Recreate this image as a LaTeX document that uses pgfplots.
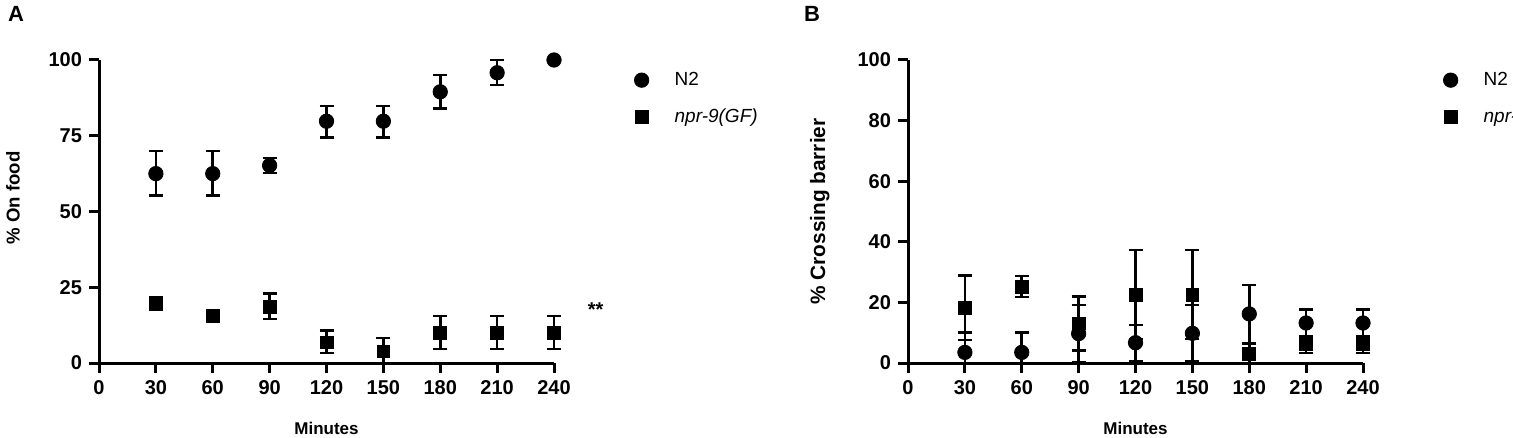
\documentclass[border=0pt]{standalone}
\usepackage{pgfplots}
\pgfplotsset{compat=1.18}
\usepackage{fontspec}
\setmainfont{Liberation Sans}

\pgfplotstableread{
x y ep em
30 62.5 7.5 7.3
60 62.5 7.5 7.3
90 65.2 2.5 2.5
120 79.8 5.0 5.3
150 79.8 5.0 5.3
180 89.5 5.6 5.5
210 95.8 4.2 4.1
240 100 0 0
}\AnTwo
\pgfplotstableread{
x y ep em
30 19.8 2.0 2.3
60 15.6 0 0
90 18.6 4.4 4.1
120 6.8 4.0 3.5
150 3.8 4.4 3.8
180 10.0 5.5 5.4
210 10.0 5.5 5.4
240 10.0 5.5 5.4
}\Anpr
\pgfplotstableread{
x y ep em
30 3.5 6.5 3.5
60 3.5 6.5 3.5
90 9.7 9.5 9.5
120 6.7 5.8 6.2
150 9.8 9.4 9.3
180 16.2 9.6 9.8
210 13.2 4.5 4.5
240 13.2 4.5 4.5
}\BnTwo
\pgfplotstableread{
x y ep em
30 18.2 10.6 10.6
60 25.1 3.6 3.3
90 13.1 8.8 9.0
120 22.6 14.7 14.7
150 22.6 14.7 14.7
180 3.0 3.4 3.0
210 6.3 2.6 3.0
240 6.3 2.6 3.0
}\Bnpr

\pgfplotsset{
  panel/.style={
    scale only axis, width=227.5pt, height=151.5pt,
    anchor=south west,
    axis lines=left, axis line style={-, line width=1.5pt, black},
    tick align=outside, major tick length=5pt,
    tick style={line width=1.5pt, black},
    xmin=0, xmax=240, ymin=0, ymax=100,
    xtick={0,30,...,240},
    clip=false,
    /pgf/number format/assume math mode=true,
    ticklabel style={font=\bfseries\fontsize{10}{12}\selectfont},
    xlabel={Minutes},
    xlabel style={at={(axis description cs:0.5,-0.2145)}, anchor=center,
      font=\bfseries\fontsize{8.5}{10}\selectfont},
    legend cell align=left,
    legend image code/.code={\path[draw=none, fill=none] (-4pt,-4pt) rectangle (4pt,4pt);
      \draw[##1] plot[only marks] coordinates {(0pt,0pt)};},
    legend style={draw=none, fill=none, anchor=north west,
      font=\fontsize{9.5}{11}\selectfont, row sep=6pt,
      column sep=10.5pt},
  },
}

\begin{document}
\begin{tikzpicture}
\path[use as bounding box] (0,0) rectangle (756.5pt,-219pt);

\begin{axis}[panel, at={(49.5pt,-181.5pt)},
  ytick={0,25,50,75,100},
  ylabel={\% On food},
  ylabel style={at={(axis description cs:-0.189,0.545)}, anchor=center,
    font=\bfseries\fontsize{9.3}{11}\selectfont},
  legend style={at={(axis description cs:1.161,0.988)}},
]
\addplot[only marks, mark=*, mark size=3.6pt, black,
  error bars/.cd, y dir=both, y explicit,
  error bar style={line width=1.3pt, black},
  error mark options={line width=1.3pt, mark size=3.5pt, black, rotate=90}]
  table[x=x, y=y, y error plus=ep, y error minus=em] {\AnTwo};
\addlegendentry{N2}
\addplot[only marks, mark=square*, mark size=3.2pt, black,
  error bars/.cd, y dir=both, y explicit,
  error bar style={line width=1.3pt, black},
  error mark options={line width=1.3pt, mark size=3.5pt, black, rotate=90}]
  table[x=x, y=y, y error plus=ep, y error minus=em] {\Anpr};
\addlegendentry{\textit{npr-9(GF)}}
\node[font=\bfseries\fontsize{10}{12}\selectfont] at (axis cs:262,17.5) {**};
\end{axis}

\begin{axis}[panel, at={(454pt,-181.5pt)},
  ytick={0,20,...,100},
  ylabel={\% Crossing barrier},
  ylabel style={at={(axis description cs:-0.194,0.5)}, anchor=center,
    font=\bfseries\fontsize{10.4}{12}\selectfont},
  legend style={at={(axis description cs:1.161,0.988)}},
]
\addplot[only marks, mark=*, mark size=3.6pt, black,
  error bars/.cd, y dir=both, y explicit,
  error bar style={line width=1.3pt, black},
  error mark options={line width=1.3pt, mark size=3.5pt, black, rotate=90}]
  table[x=x, y=y, y error plus=ep, y error minus=em] {\BnTwo};
\addlegendentry{N2}
\addplot[only marks, mark=square*, mark size=3.2pt, black,
  error bars/.cd, y dir=both, y explicit,
  error bar style={line width=1.3pt, black},
  error mark options={line width=1.3pt, mark size=3.5pt, black, rotate=90}]
  table[x=x, y=y, y error plus=ep, y error minus=em] {\Bnpr};
\addlegendentry{\textit{npr-9(GF)}}
\end{axis}

\node[font=\bfseries\fontsize{11}{13}\selectfont] at (8pt,-7pt) {A};
\node[font=\bfseries\fontsize{11}{13}\selectfont] at (406pt,-7pt) {B};
\end{tikzpicture}
\end{document}
